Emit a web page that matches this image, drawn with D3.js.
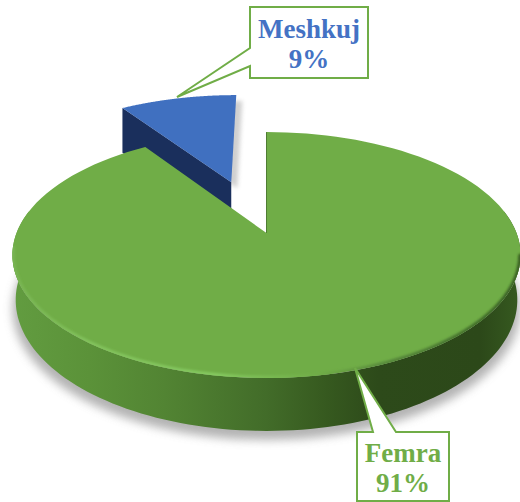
<!DOCTYPE html>
<html><head><meta charset="utf-8">
<script src="https://cdn.jsdelivr.net/npm/d3@7"></script>
<style>html,body{margin:0;padding:0;background:#fff}svg{display:block}</style>
</head><body><svg id="c" width="520" height="502"></svg>
<script>
const categories = ["Femra", "Meshkuj"];
const values = [90.6, 9.4];
const sliceColors = ["#70ad47", "#4472c4"];
const textColors = ["#70ad47", "#4472c4"];

const svg = d3.select("#c");
const defs = svg.append("defs");
const CX = 266.5, CY = 233, RX = 250, S = 119, K = 0.179, DEPTH = 43.5, BLUE_DEPTH = 55;
const project = (u, v) => { const w = 1 + K * v; return [CX + RX * u / w, CY - S * v / w]; };
const lower = (u, v) => { const w = 1 + K * v; const p = project(u, v); return [CX + (p[0] - CX) * 0.987, p[1] + DEPTH / w]; };
const lowerBlue = (u, v) => { const w = 1 + K * v; const p = project(u, v); return [p[0], p[1] + BLUE_DEPTH / w]; };
const rimPoints = (a0, a1, ox, oy, f) => d3.range(0, 121).map(i => {
  const a = a0 + (a1 - a0) * i / 120;
  return f(ox + Math.sin(a), oy + Math.cos(a));
});
const line = d3.line();
const pie = d3.pie().sort(null)(values);
const [femra, meshkuj] = pie;

// filters
[["b1", 1.2], ["b2", 2], ["b8", 5]].forEach(([id, s]) => {
  defs.append("filter").attr("id", id).attr("x", "-30%").attr("y", "-30%").attr("width", "160%").attr("height", "160%")
    .append("feGaussianBlur").attr("stdDeviation", s);
});
const grad = (id, stops) => {
  const g = defs.append("linearGradient").attr("id", id).attr("gradientUnits", "userSpaceOnUse")
    .attr("x1", 13).attr("x2", 520).attr("y1", 0).attr("y2", 0);
  stops.forEach(([o, c]) => g.append("stop").attr("offset", o).attr("stop-color", c));
};
grad("wall", [[0, "#629c40"], [0.15, "#5b9239"], [0.3, "#528433"], [0.5, "#426c29"], [0.62, "#36591f"], [0.72, "#2d4a1a"], [0.92, "#2c4819"], [1, "#365a20"]]);
grad("rim", [[0, "#78b452"], [0.15, "#82c25c"], [0.4, "#84c85f"], [0.6, "#70ad47"], [0.75, "#55863a"], [0.95, "#3f6a28"], [1, "#3a6024"]]);

// ground shadow
const wallTop = rimPoints(Math.PI * 0.44, Math.PI * 1.56, 0, 0, project);
const wallBot = rimPoints(Math.PI * 0.44, Math.PI * 1.56, 0, 0, lower);
svg.append("path").attr("d", line(wallBot.map(p => [CX + (p[0] - CX) * 1.012, p[1] + 9])) + "Z")
  .attr("fill", "#9a9a9a").attr("opacity", 0.75).attr("filter", "url(#b8)");

// exploded slice
const mid = (meshkuj.startAngle + meshkuj.endAngle) / 2;
const OFF = 0.483, ox = OFF * Math.sin(mid) - 0.012, oy = OFF * Math.cos(mid);
const bTop = rimPoints(meshkuj.startAngle, meshkuj.endAngle, ox, oy, project);
const bBot = rimPoints(meshkuj.startAngle, meshkuj.endAngle, ox, oy, lowerBlue);
const apex = project(ox, oy), apexLow = lowerBlue(ox, oy);
svg.append("path").attr("d", line([...bTop, apex]) + "Z").attr("transform", "translate(6,6)")
  .attr("fill", "#777").attr("opacity", 0.35).attr("filter", "url(#b2)");
const left = bTop[0], leftLow = bBot[0];
svg.append("path").attr("d", line([left, apex, apexLow, leftLow]) + "Z").attr("fill", "#1a2f5c");
svg.append("path").attr("d", line([...bTop, apex]) + "Z").attr("fill", "#4070c0");

// main slice: wall, top, bevel
svg.append("path").attr("d", line([...wallTop, ...wallBot.slice().reverse()]) + "Z").attr("fill", "url(#wall)");
const gTop = rimPoints(femra.startAngle, femra.endAngle, 0, 0, project);
const gApex = project(0, 0);
const gPath = line([...gTop, gApex]) + "Z";
defs.append("clipPath").attr("id", "topClip").append("path").attr("d", gPath);
svg.append("path").attr("d", gPath).attr("fill", sliceColors[0]);
const frontRim = rimPoints(Math.PI * 0.56, Math.PI * 1.46, 0, 0, project);
svg.append("g").attr("clip-path", "url(#topClip)").append("path").attr("d", line(frontRim))
  .attr("fill", "none").attr("stroke", "url(#rim)").attr("stroke-width", 5).attr("stroke-linecap", "round").attr("filter", "url(#b1)");
svg.append("path").attr("d", line([project(0, 1), gApex])).attr("stroke", "#4f7d33").attr("stroke-width", 1).attr("fill", "none");

// callouts
const fmt = d3.format(".0%");
const total = d3.sum(values);
const callouts = [
  { i: 1, box: [250, 7, 118, 71], tip: [177, 97], gap: [[250, 48], [250, 66]], base: [31, 61] },
  { i: 0, box: [357, 432, 92, 69], tip: [355, 368], gap: [[373, 432], [396, 432]], base: [30, 60] }
];
callouts.forEach(c => {
  const [x, y, w, h] = c.box;
  const outline = c.i === 1
    ? [[x, y], [x + w, y], [x + w, y + h], [x, y + h], c.gap[1], c.tip, c.gap[0]]
    : [[x, y], c.gap[0], c.tip, c.gap[1], [x + w, y], [x + w, y + h], [x, y + h]];
  svg.append("path").attr("d", line(outline) + "Z").attr("fill", "#fff")
    .attr("stroke", "#70ad47").attr("stroke-width", 2).attr("stroke-linejoin", "miter");
  const t = svg.append("text").attr("text-anchor", "middle")
    .attr("font-family", "'Liberation Serif'").attr("font-weight", "bold").attr("font-size", 27)
    .attr("fill", textColors[c.i]);
  t.append("tspan").attr("x", x + w / 2).attr("y", y + c.base[0]).text(categories[c.i]);
  t.append("tspan").attr("x", x + w / 2).attr("y", y + c.base[1]).text(fmt(values[c.i] / total));
});
</script></body></html>
